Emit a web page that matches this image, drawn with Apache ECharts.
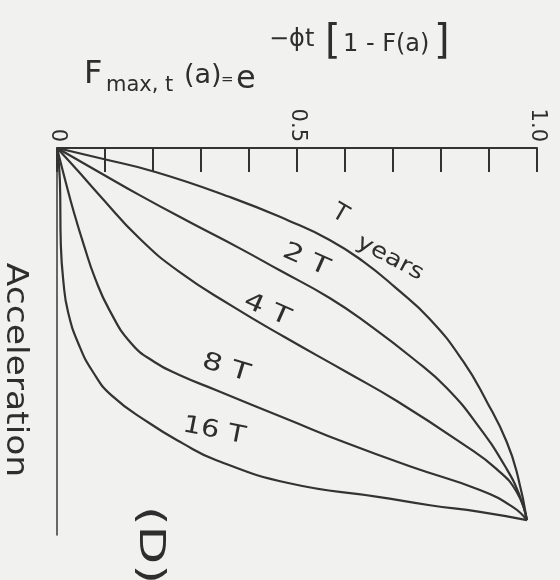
<!DOCTYPE html>
<html>
<head>
<meta charset="utf-8">
<script src="https://cdn.jsdelivr.net/npm/echarts@6/dist/echarts.min.js"></script>
<style>
  html, body { margin: 0; padding: 0; background: #f1f1ef; }
  #chart { width: 560px; height: 580px; }
</style>
</head>
<body>
<div id="chart"></div>
<script>
// x = F max,t (a), y = acceleration (grows downward, end of curves = 1)
var curveT = [[0, 0], [0.088, 0.027], [0.207, 0.065], [0.365, 0.134], [0.484, 0.196], [0.568, 0.247],
  [0.637, 0.304], [0.704, 0.374], [0.777, 0.460], [0.846, 0.573], [0.896, 0.683], [0.937, 0.790],
  [0.960, 0.882], [0.979, 1.0]];
var curve2T = [[0, 0], [0.088, 0.065], [0.171, 0.126], [0.276, 0.199], [0.380, 0.269], [0.463, 0.328],
  [0.568, 0.403], [0.651, 0.476], [0.741, 0.565], [0.812, 0.645], [0.881, 0.753], [0.937, 0.863],
  [0.965, 0.938], [0.979, 1.0]];
var curve4T = [[0, 0], [0.042, 0.059], [0.088, 0.126], [0.171, 0.242], [0.255, 0.333], [0.365, 0.425],
  [0.474, 0.508], [0.603, 0.602], [0.708, 0.680], [0.846, 0.796], [0.916, 0.863], [0.958, 0.925],
  [0.979, 1.0]];
var curve8T = [[0, 0], [0.017, 0.086], [0.035, 0.172], [0.056, 0.261], [0.079, 0.349], [0.109, 0.435],
  [0.154, 0.524], [0.203, 0.575], [0.255, 0.610], [0.332, 0.651], [0.484, 0.731], [0.603, 0.793],
  [0.741, 0.858], [0.881, 0.919], [0.950, 0.965], [0.979, 1.0]];
var curve16T = [[0, 0], [0.006, 0.086], [0.008, 0.261], [0.013, 0.355], [0.023, 0.441], [0.046, 0.530],
  [0.075, 0.602], [0.113, 0.664], [0.192, 0.739], [0.261, 0.793], [0.332, 0.839], [0.484, 0.901],
  [0.672, 0.938], [0.777, 0.960], [0.881, 0.978], [0.979, 1.0]];

var xTickValues = [0, 0.5, 1.0];
var xTickTexts = ['0', '0.5', '1.0'];

var ink = '#2e2e2e';
var font = 'DejaVu Sans';

function tickText(v) {
  for (var i = 0; i < xTickValues.length; i++) {
    if (Math.abs(v - xTickValues[i]) < 1e-6) return xTickTexts[i];
  }
  return '';
}

function curve(name, data) {
  return {
    name: name,
    type: 'line',
    data: data,
    smooth: 0.5,
    symbol: 'none',
    lineStyle: { color: '#333', width: 2.2 }
  };
}

// label text along the curves, rotation in degrees clockwise
function txt(s, x, y, size, deg, sx) {
  return {
    type: 'text',
    x: x, y: y,
    rotation: -deg * Math.PI / 180,
    scaleX: sx || 1,
    style: {
      text: s, fill: ink,
      font: size + 'px "' + font + '"',
      textAlign: 'center', textVerticalAlign: 'middle'
    }
  };
}

function part(s, x, y, size) {
  return {
    type: 'text', x: x, y: y,
    style: {
      text: s, fill: ink,
      font: size + 'px "' + font + '"',
      textAlign: 'left', textVerticalAlign: 'middle'
    }
  };
}

var chart = echarts.init(document.getElementById('chart'));
chart.setOption({
  backgroundColor: '#f1f1ef',
  animation: false,
  grid: { left: 57, right: 23, top: 148, bottom: 45 },
  xAxis: {
    type: 'value',
    position: 'top',
    min: 0, max: 1, interval: 0.1,
    axisLine: { show: true, lineStyle: { color: '#333', width: 2 } },
    axisTick: { show: true, inside: true, length: 24, lineStyle: { color: '#333', width: 2 } },
    axisLabel: {
      show: true, rotate: -90, margin: 6,
      color: ink, fontSize: 21, fontFamily: font,
      formatter: tickText
    },
    splitLine: { show: false }
  },
  yAxis: {
    type: 'value',
    inverse: true,
    min: 0, max: 1.04,
    axisLine: { show: true, lineStyle: { color: '#444', width: 1.6 } },
    axisTick: { show: false },
    axisLabel: { show: false },
    splitLine: { show: false }
  },
  series: [
    curve('T', curveT),
    curve('2T', curve2T),
    curve('4T', curve4T),
    curve('8T', curve8T),
    curve('16T', curve16T)
  ],
  graphic: [
    part('F', 84, 75, 32),
    part('max, t', 106, 86, 21),
    part('(a)', 184, 76, 27),
    part('=', 221, 80, 15),
    part('e', 236, 80, 32),
    part('\u2212\u03d5t', 269, 40, 24),
    part('[', 325, 43, 40),
    part('1 - F(a)', 343, 45, 24),
    part(']', 434, 43, 40),
    txt('T', 340, 214, 24, 30, 1),
    txt('years', 390, 258, 22, 28, 1.2),
    txt('2 T', 306, 260, 24, 24, 1.3),
    txt('4 T', 267, 310, 24, 24, 1.3),
    txt('8 T', 226, 368, 24, 17, 1.3),
    txt('16 T', 214, 431, 24, 11, 1.2),
    txt('Acceleration', 15, 370, 30, 90, 1.15),
    txt('(D)', 149, 545, 36, 90, 1.4)
  ]
});
</script>
</body>
</html>
